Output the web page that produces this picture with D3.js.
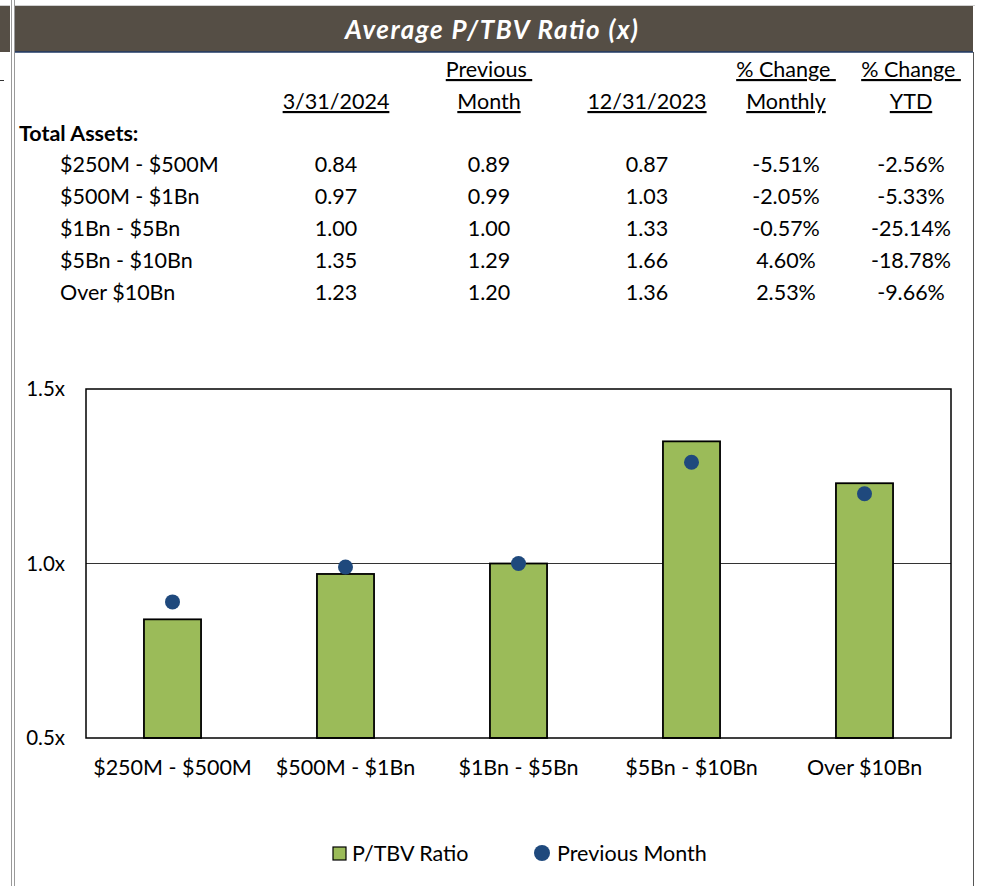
<!DOCTYPE html>
<html>
<head>
  <meta charset="utf-8">
  <title>Average P/TBV Ratio</title>
  <script src="https://d3js.org/d3.v7.min.js"></script>
  <style>
    body { margin: 0; background: #fff; }
    text { font-family: Lato, "Open Sans", sans-serif; fill: #000; }
  </style>
</head>
<body>
  <script>
    // data
    const categories = ["$250M - $500M", "$500M - $1Bn", "$1Bn - $5Bn", "$5Bn - $10Bn", "Over $10Bn"];
    const current = [0.84, 0.97, 1.00, 1.35, 1.23];
    const previousMonth = [0.89, 0.99, 1.00, 1.29, 1.20];
    const yearEnd = [0.87, 1.03, 1.33, 1.66, 1.36];
    const changeMonthly = ["-5.51%", "-2.05%", "-0.57%", "4.60%", "2.53%"];
    const changeYTD = ["-2.56%", "-5.33%", "-25.14%", "-18.78%", "-9.66%"];
    const headerTop = ["", "Previous\u00a0", "", "% Change\u00a0", "% Change\u00a0"];
    const headerBottom = ["3/31/2024", "Month", "12/31/2023", "Monthly", "YTD"];
    const yTicks = [0.5, 1.0, 1.5];

    let width = 981;
    let height = 886;
    let fontSize = "21.5px";

    let svg = d3.select("body")
      .append("svg")
      .attr("width", width)
      .attr("height", height);

    // frame pieces
    svg.append("line").attr("x1", 0).attr("x2", 975).attr("y1", 5.5).attr("y2", 5.5)
      .attr("stroke", "#d0d0d0");
    svg.append("rect").attr("x", 0).attr("y", 6).attr("width", 973).attr("height", 46)
      .attr("fill", "#554e45");
    svg.append("line").attr("x1", 15).attr("x2", 973).attr("y1", 52).attr("y2", 52)
      .attr("stroke", "#1f3864").attr("stroke-width", 1.5);
    svg.append("rect").attr("x", 10).attr("y", 0).attr("width", 5).attr("height", height)
      .attr("fill", "#fff");
    svg.append("line").attr("x1", 11.5).attr("x2", 11.5).attr("y1", 0).attr("y2", height)
      .attr("stroke", "#9a9a9a");
    svg.append("line").attr("x1", 14.5).attr("x2", 14.5).attr("y1", 0).attr("y2", height)
      .attr("stroke", "#9a9a9a");
    svg.append("line").attr("x1", 973.5).attr("x2", 973.5).attr("y1", 52).attr("y2", height)
      .attr("stroke", "#555");
    svg.append("line").attr("x1", 0).attr("x2", 4).attr("y1", 80.5).attr("y2", 80.5)
      .attr("stroke", "#333");

    svg.append("text")
      .attr("x", 345).attr("y", 39)
      .attr("textLength", 293).attr("lengthAdjust", "spacing")
      .style("font-size", "26px").style("font-weight", "bold").style("font-style", "italic")
      .style("fill", "#fff")
      .text("Average P/TBV Ratio (x)");

    // table
    const colX = [336, 489, 647, 786, 911];
    let table = svg.append("g").style("font-size", fontSize);

    table.selectAll(".h1").data(headerTop).enter().append("text")
      .attr("x", (d, i) => colX[i]).attr("y", 77)
      .attr("text-anchor", "middle")
      .style("text-decoration", "underline")
      .style("white-space", "pre")
      .text(d => d);
    table.selectAll(".h2").data(headerBottom).enter().append("text")
      .attr("x", (d, i) => colX[i]).attr("y", 109)
      .attr("text-anchor", "middle")
      .style("text-decoration", "underline")
      .text(d => d);

    table.append("text").attr("x", 19).attr("y", 141)
      .style("font-weight", "bold").text("Total Assets:");

    const rowY = i => 172 + i * 32;
    const cols = [current.map(d => d.toFixed(2)), previousMonth.map(d => d.toFixed(2)),
      yearEnd.map(d => d.toFixed(2)), changeMonthly, changeYTD];

    categories.forEach((c, i) => {
      table.append("text").attr("x", 60).attr("y", rowY(i)).text(c);
      cols.forEach((col, j) => {
        table.append("text").attr("x", colX[j]).attr("y", rowY(i))
          .attr("text-anchor", "middle").text(col[i]);
      });
    });

    // chart
    const plot = { left: 86, right: 951, top: 389, bottom: 738 };

    let x = d3.scaleBand()
      .domain(categories)
      .range([plot.left, plot.right])
      .paddingInner(0.67)
      .paddingOuter(0.335);

    let y = d3.scaleLinear()
      .domain([0.5, 1.5])
      .range([plot.bottom, plot.top]);

    let chart = svg.append("g");

    chart.append("line")
      .attr("x1", plot.left).attr("x2", plot.right)
      .attr("y1", y(1.0)).attr("y2", y(1.0))
      .attr("stroke", "#333").attr("stroke-width", 1);

    chart.selectAll(".bar").data(current).enter().append("rect")
      .attr("x", (d, i) => x(categories[i]))
      .attr("y", d => y(d))
      .attr("width", x.bandwidth())
      .attr("height", d => y(0.5) - y(d))
      .attr("fill", "#9bbb59")
      .attr("stroke", "#000")
      .attr("stroke-width", 1.8);

    chart.selectAll(".dot").data(previousMonth).enter().append("circle")
      .attr("cx", (d, i) => x(categories[i]) + x.bandwidth() / 2)
      .attr("cy", d => y(d))
      .attr("r", 7.5)
      .attr("fill", "#1f497d");

    chart.append("rect")
      .attr("x", plot.left).attr("y", plot.top)
      .attr("width", plot.right - plot.left).attr("height", plot.bottom - plot.top)
      .attr("fill", "none").attr("stroke", "#000").attr("stroke-width", 1.5);

    let yAxis = chart.append("g")
      .attr("transform", "translate(" + plot.left + ",0)")
      .call(d3.axisLeft(y).tickValues(yTicks).tickSize(0).tickPadding(21)
        .tickFormat(d => d.toFixed(1) + "x"));
    yAxis.select(".domain").remove();
    yAxis.selectAll("text").style("font-size", "20.5px").style("font-family", "Lato, sans-serif").attr("fill", "#000");

    let xAxis = chart.append("g")
      .attr("transform", "translate(0," + plot.bottom + ")")
      .call(d3.axisBottom(x).tickSize(0).tickPadding(22));
    xAxis.select(".domain").remove();
    xAxis.selectAll("text").style("font-size", fontSize).style("font-family", "Lato, sans-serif").attr("fill", "#000");

    // legend
    let legend = svg.append("g").style("font-size", fontSize);
    legend.append("rect").attr("x", 333).attr("y", 847).attr("width", 13).attr("height", 13)
      .attr("fill", "#9bbb59").attr("stroke", "#000").attr("stroke-width", 1.2);
    legend.append("text").attr("x", 352).attr("y", 861).text("P/TBV Ratio");
    legend.append("circle").attr("cx", 542).attr("cy", 853).attr("r", 8).attr("fill", "#1f497d");
    legend.append("text").attr("x", 557).attr("y", 861).text("Previous Month");
  </script>
</body>
</html>
